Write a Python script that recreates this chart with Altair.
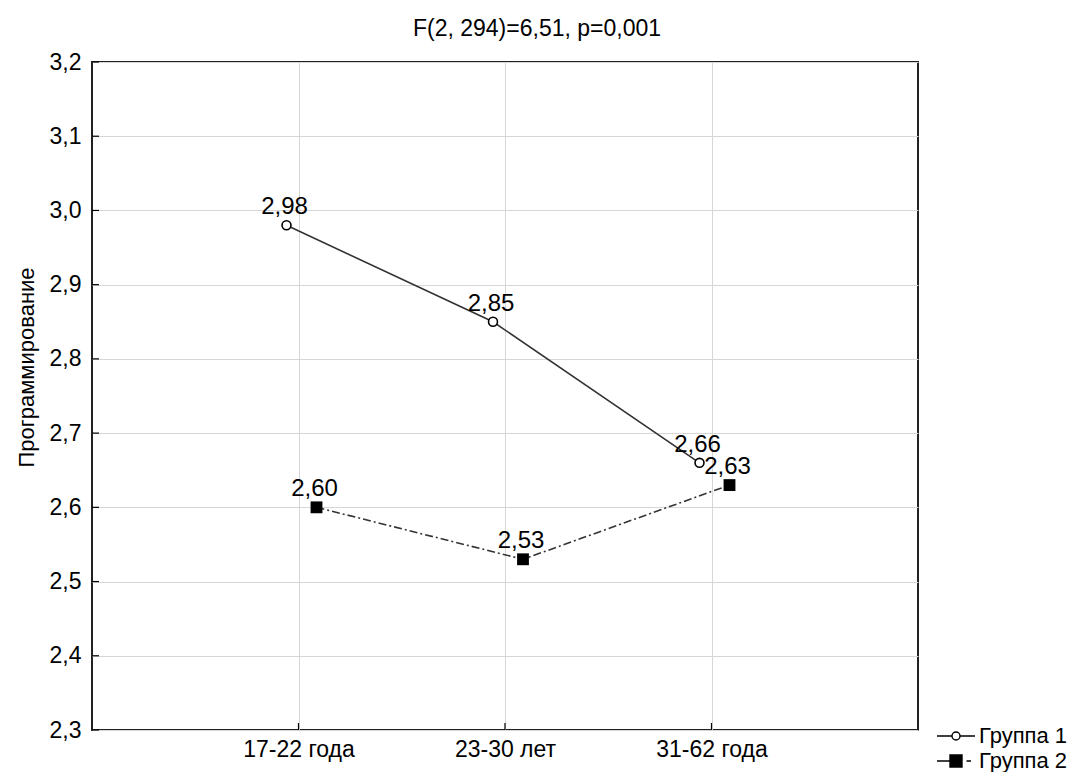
import altair as alt
import pandas as pd

# Age groups and mean "Программирование" scores per group
categories = ["17-22 года", "23-30 лет", "31-62 года"]
group_names = ["Группа 1", "Группа 2"]
group1 = [2.98, 2.85, 2.66]
group2 = [2.60, 2.53, 2.63]
y_ticks = [2.3, 2.4, 2.5, 2.6, 2.7, 2.8, 2.9, 3.0, 3.1, 3.2]

W, H = 826, 668
FONT = "Liberation Sans"

df = pd.DataFrame({
    "cat": categories * 2,
    "group": [group_names[0]] * 3 + [group_names[1]] * 3,
    "value": group1 + group2,
})
df_ytick = pd.DataFrame({"value": y_ticks})
df_xtick = pd.DataFrame({"cat": categories})

comma = "replace(format(datum.value, '.1f'), '.', ',')"

x_enc = alt.X(
    "cat:N", sort=categories, title=None,
    scale=alt.Scale(type="point", padding=1),
    axis=alt.Axis(labelAngle=0, ticks=False, domain=False, grid=True,
                  gridColor="#d6d6d6", labelFont=FONT, labelFontSize=23,
                  labelColor="#000", labelPadding=8),
)
y_enc = alt.Y(
    "value:Q", title="Программирование",
    scale=alt.Scale(domain=[2.3, 3.2], nice=False, zero=False),
    axis=alt.Axis(values=y_ticks, labelExpr=comma, ticks=False, domain=False,
                  grid=True, gridColor="#d6d6d6", labelFont=FONT,
                  labelFontSize=23, labelColor="#000", labelPadding=11,
                  titleFont=FONT, titleFontSize=22, titleFontWeight="normal",
                  titleColor="#000", titlePadding=11, titleY=305),
)

base = alt.Chart(df).encode(x=x_enc, y=y_enc)

OFF1, OFF2 = -12, 18

line1 = base.transform_filter(alt.datum.group == group_names[0]).mark_line(
    color="#333", strokeWidth=1.6, xOffset=OFF1)
line2 = base.transform_filter(alt.datum.group == group_names[1]).mark_line(
    color="#333", strokeWidth=1.6, strokeDash=[8, 3, 2, 3], xOffset=OFF2)

pts1 = base.transform_filter(alt.datum.group == group_names[0]).mark_point(
    shape="circle", size=80, fill="white", filled=False, stroke="#000",
    strokeWidth=1.6, opacity=1, xOffset=OFF1)
pts2 = base.transform_filter(alt.datum.group == group_names[1]).mark_point(
    shape="square", size=140, filled=True, color="#000", opacity=1, xOffset=OFF2)

lab = base.transform_calculate(
    label="replace(format(datum.value, '.2f'), '.', ',')"
).encode(text="label:N")
lab1 = lab.transform_filter(alt.datum.group == group_names[0]).mark_text(
    font=FONT, fontSize=24, color="#000", baseline="bottom", dy=-6, xOffset=OFF1 - 2)
lab2 = lab.transform_filter(alt.datum.group == group_names[1]).mark_text(
    font=FONT, fontSize=24, color="#000", baseline="bottom", dy=-6, xOffset=OFF2 - 2)

# short inward ticks along the frame
ytick = alt.Chart(df_ytick).mark_rule(color="#000", strokeWidth=1.2).encode(
    y=y_enc, x=alt.value(0), x2=alt.value(7))
xtick = alt.Chart(df_xtick).mark_rule(color="#000", strokeWidth=1.2).encode(
    x=x_enc, y=alt.value(H), y2=alt.value(H - 7))

# legend symbols: line through an open circle / a filled square with dash-dot tail
sym1 = "M-3.8,0L-0.8,0M0.8,0L3.8,0M-0.8,0A0.8,0.8 0 1,1 0.8,0A0.8,0.8 0 1,1 -0.8,0Z"
sym2 = "M-3.8,0L-1.2,0M-1.2,-1.2L1.2,-1.2L1.2,1.2L-1.2,1.2ZM2.1,0L3.0,0"
leg = alt.Legend(title=None, orient="none", legendX=853, legendY=663,
                 symbolSize=100, symbolStrokeWidth=1.4,
                 symbolOpacity=1, labelFont=FONT, labelFontSize=22,
                 labelColor="#000", rowPadding=3, labelOffset=12)
# the legend layer draws no marks of its own; its scales carry the entries
legend_layer = alt.Chart(df).transform_filter("false").mark_point(strokeWidth=1.4).encode(
    x=x_enc, y=y_enc,
    shape=alt.Shape("group:N", scale=alt.Scale(domain=group_names, range=[sym1, sym2]), legend=leg),
    fill=alt.Fill("group:N", scale=alt.Scale(domain=group_names, range=["white", "black"]), legend=leg),
    stroke=alt.Stroke("group:N", scale=alt.Scale(domain=group_names, range=["black", "black"]), legend=leg),
)

chart = alt.layer(
    ytick, xtick, line1, line2, pts1, pts2, lab1, lab2, legend_layer
).properties(
    width=W, height=H,
    title=alt.TitleParams("F(2, 294)=6,51, p=0,001", font=FONT, fontSize=23,
                          fontWeight="normal", color="#000", anchor="middle",
                          dx=32, offset=10),
    autosize=alt.AutoSizeParams(type="none"),
    padding={"left": 92, "top": 62, "right": 156, "bottom": 42},
    background="white",
).configure_view(stroke="#222", strokeWidth=2)

chart.save("out.html", embed_options={"renderer": "svg", "actions": False})
